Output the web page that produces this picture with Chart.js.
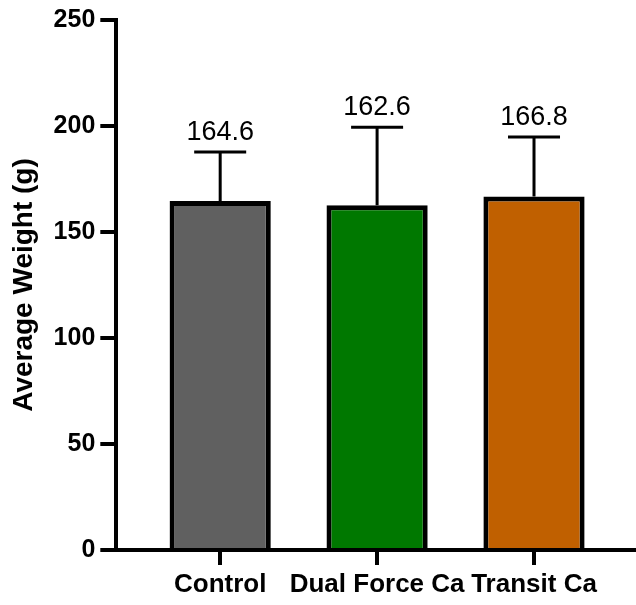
<!DOCTYPE html>
<html lang="en">
<head>
  <meta charset="UTF-8">
  <title>Average Weight</title>
  <script src="https://cdn.jsdelivr.net/npm/chart.js"></script>
  <style>
    html, body { margin: 0; padding: 0; background: #fff; }
    #wrap { width: 636px; height: 605px; }
  </style>
</head>
<body>
  <div id="wrap"><canvas id="weightChart"></canvas></div>

<script>
  const categories = ['Control', 'Dual Force Ca', 'Transit Ca'];
  const means = [164.6, 162.6, 166.8];
  const sdUpper = [23.1, 36.8, 28.0];
  const barColors = ['#606060', '#007800', '#c06000'];
  const yTicks = [0, 50, 100, 150, 200, 250];

  const FONT = "'Liberation Sans', Arial, sans-serif";

  // error bars (upper only) + value labels above them
  const errorBars = {
    id: 'errorBars',
    afterDatasetsDraw(chart) {
      const ctx = chart.ctx;
      const x = chart.scales.x, y = chart.scales.y;
      ctx.save();
      ctx.strokeStyle = '#000';
      ctx.lineWidth = 3;
      means.forEach((m, i) => {
        const cx = x.getPixelForValue(i);
        const yTop = y.getPixelForValue(m + sdUpper[i]);
        const yBar = y.getPixelForValue(m);
        ctx.beginPath();
        ctx.moveTo(cx, yBar);
        ctx.lineTo(cx, yTop);
        ctx.moveTo(cx - 26, yTop);
        ctx.lineTo(cx + 26, yTop);
        ctx.stroke();
        ctx.fillStyle = '#000';
        ctx.font = '27px ' + FONT;
        ctx.textAlign = 'center';
        ctx.textBaseline = 'alphabetic';
        ctx.fillText(m.toFixed(1), cx, yTop - 12);
      });
      ctx.restore();
    }
  };

  new Chart(document.getElementById('weightChart'), {
    type: 'bar',
    data: {
      datasets: [{
        data: means.map((v, i) => ({ x: i, y: v })),
        backgroundColor: barColors,
        borderColor: '#000',
        borderWidth: 5,
        borderSkipped: 'start',
        barPercentage: 0.645,
        categoryPercentage: 1
      }]
    },
    options: {
      responsive: true,
      maintainAspectRatio: false,
      animation: false,
      layout: { padding: { left: 4, top: 20, right: 0, bottom: 0 } },
      plugins: {
        legend: { display: false },
        tooltip: { enabled: false }
      },
      scales: {
        x: {
          type: 'linear',
          offset: false,
          min: -0.662,
          max: 2.65,
          afterBuildTicks: (scale) => { scale.ticks = categories.map((c, i) => ({ value: i })); },
          ticks: {
            autoSkip: false,
            maxRotation: 0,
            padding: 7,
            color: '#000',
            font: { family: FONT, size: 26, weight: 'bold', lineHeight: 1 },
            callback: (v) => categories[v]
          },
          grid: { offset: false, drawOnChartArea: false, drawTicks: true, tickLength: 15, lineWidth: 4, color: '#000' },
          border: { display: true, width: 4, color: '#000' }
        },
        y: {
          min: 0,
          max: 250,
          afterBuildTicks: (scale) => { scale.ticks = yTicks.map(v => ({ value: v })); },
          ticks: {
            padding: 5,
            color: '#000',
            font: { family: FONT, size: 25, weight: 'bold' }
          },
          grid: { drawOnChartArea: false, drawTicks: true, tickLength: 16, lineWidth: 4, color: '#000' },
          border: { display: true, width: 4, color: '#000' },
          title: {
            display: true,
            text: 'Average Weight (g)',
            color: '#000',
            padding: { top: 3, bottom: 8 },
            font: { family: FONT, size: 28, weight: 'bold' }
          }
        }
      }
    },
    plugins: [errorBars]
  });
</script>
</body>
</html>
